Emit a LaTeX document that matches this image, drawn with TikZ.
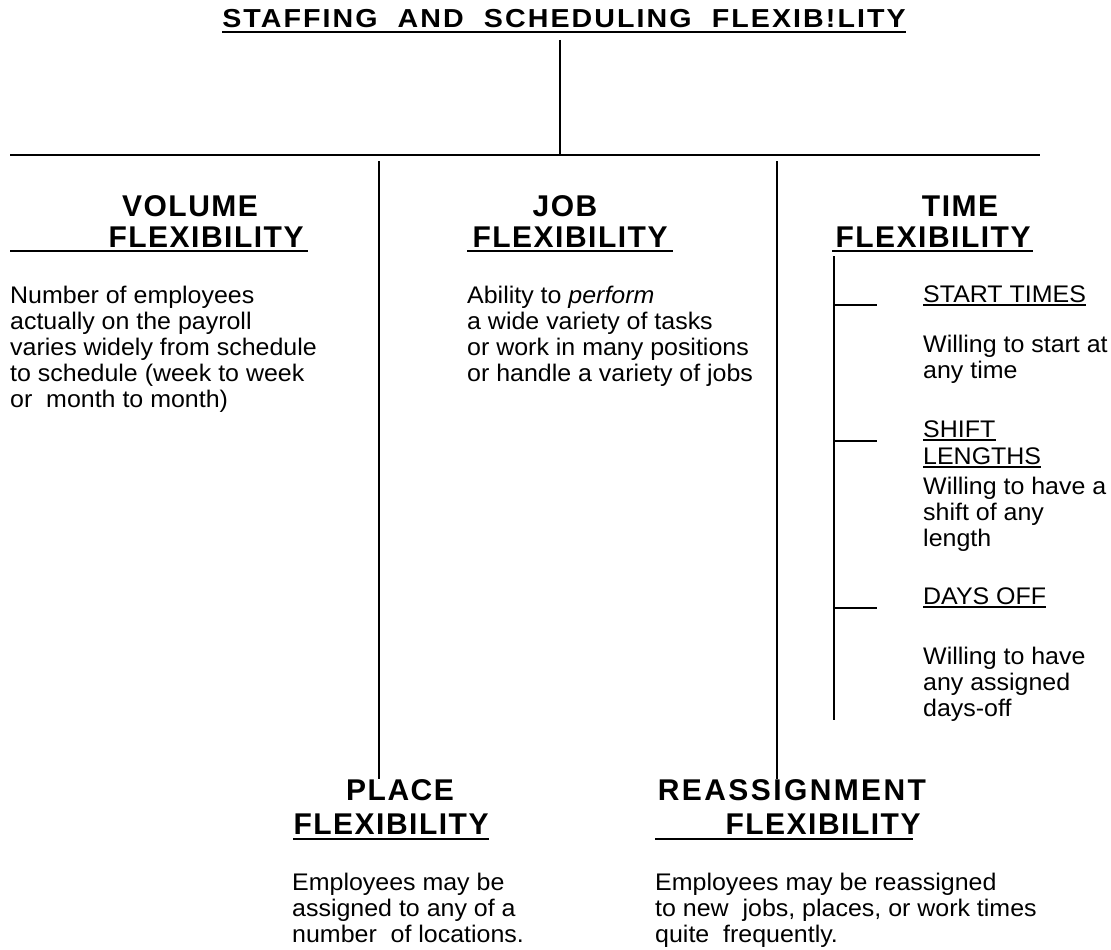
\documentclass[tikz,border=0pt]{standalone}
\usepackage{fontspec}
\setmainfont{Liberation Sans}
\newfontfamily\bodyfont[FakeStretch=1.04]{Liberation Sans}
\newfontfamily\headfont[LetterSpace=5]{Liberation Sans}
\newfontfamily\wideheadfont[LetterSpace=8]{Liberation Sans}
\newfontfamily\titlefont[FakeStretch=1.1,LetterSpace=8]{Liberation Sans}

\tikzset{
  body/.style={font=\bodyfont\fontsize{24}{26}\selectfont, align=left, inner sep=0pt, anchor=north west},
  subhead/.style={font=\bodyfont\fontsize{24}{26}\selectfont, inner sep=0pt, anchor=base west},
  head/.style={font=\headfont\bfseries\fontsize{30}{32}\selectfont, inner sep=0pt, anchor=base},
  widehead/.style={head, font=\wideheadfont\bfseries\fontsize{30}{32}\selectfont},
  heavy/.style={line width=2pt},
  uline/.style={line width=1.8pt},
  light/.style={line width=1.1pt},
}

\begin{document}
\begin{tikzpicture}[x=1pt,y=-1pt]
  \fill[white] (0,0) rectangle (1111,950);
  \path[use as bounding box] (0,0) rectangle (1111,950);

  % title and its stem
  \node[font=\titlefont\bfseries\fontsize{26}{28}\selectfont, inner sep=0pt, anchor=base]
    (title) at (564,28) {STAFFING\ \ AND\ \ SCHEDULING\ \ FLEXIB!LITY};
  \draw[uline] ([yshift=-4pt]title.base west) -- ([yshift=-4pt]title.base east);
  \coordinate (stemtop) at (560,40);
  \coordinate (root) at (560,155);
  \draw[heavy] (stemtop) -- (root);

  % main bar
  \coordinate (barL) at (10,155);
  \coordinate (barR) at (1040,155);
  \draw[heavy] (barL) -- (barR);

  % volume flexibility
  \node[head] (volA) at (190,216) {VOLUME};
  \node[head] (volB) at (206,247) {FLEXIBILITY};
  \draw[uline] (10,251) -- (308,251);
  \node[body] (volT) at (10,286) {Number of employees\\actually on the payroll\\varies widely from schedule\\to schedule (week to week\\or\ \ month to month)};

  % job flexibility
  \node[head] (jobA) at (565,216) {JOB};
  \node[head] (jobB) at (570,247) {FLEXIBILITY};
  \draw[uline] (467,251) -- (673,251);
  \node[body] (jobT) at (467,286) {Ability to \textit{perform}\\a wide variety of tasks\\or work in many positions\\or handle a variety of jobs};

  % time flexibility
  \node[head] (timA) at (960,216) {TIME};
  \node[head] (timB) at (933,247) {FLEXIBILITY};
  \draw[uline] (832,251) -- (1033,251);

  \coordinate (tt) at (834,256);
  \coordinate (tb) at (834,720);
  \draw[heavy] (tt) -- (tb);

  \node[subhead] (st) at (923,302) {START TIMES};
  \draw[light] ([yshift=-3pt]st.base west) -- ([yshift=-3pt]st.base east);
  \node[body] (stT) at (923,335) {Willing to start at\\any time};

  \node[subhead] (sh1) at (923,437) {SHIFT};
  \draw[light] ([yshift=-3pt]sh1.base west) -- ([yshift=-3pt]sh1.base east);
  \node[subhead] (sh2) at (923,464) {LENGTHS};
  \draw[light] ([yshift=-3pt]sh2.base west) -- ([yshift=-3pt]sh2.base east);
  \node[body] (shT) at (923,477) {Willing to have a\\shift of any\\length};

  \node[subhead] (do) at (923,604) {DAYS OFF};
  \draw[light] ([yshift=-3pt]do.base west) -- ([yshift=-3pt]do.base east);
  \node[body] (doT) at (923,647) {Willing to have\\any assigned\\days-off};

  \coordinate (k1) at (834,305);
  \coordinate (k2) at (834,441);
  \coordinate (k3) at (834,608);
  \draw[light] (k1) -- ++(43,0);
  \draw[light] (k2) -- ++(43,0);
  \draw[light] (k3) -- ++(43,0);

  % place flexibility
  \node[head] (plA) at (400,800) {PLACE};
  \node[head] (plB) at (391,834) {FLEXIBILITY};
  \draw[uline] (293,839) -- (489,839);
  \node[body] (plT) at (292,873) {Employees may be\\assigned to any of a\\number\ \ of locations.};
  \coordinate (vl) at (379,161);
  \draw[heavy] (vl) -- (vl |- plA.north);

  % reassignment flexibility
  \node[widehead] (reA) at (792,800) {REASSIGNMENT};
  \node[head] (reB) at (823,834) {FLEXIBILITY};
  \draw[uline] (655,839) -- (913,839);
  \node[body] (reT) at (655,873) {Employees may be reassigned\\to new\ \ jobs, places, or work times\\quite\ \ frequently.};
  \coordinate (vr) at (777,161);
  \draw[heavy] (vr) -- (vr |- reA.north);
\end{tikzpicture}
\end{document}
